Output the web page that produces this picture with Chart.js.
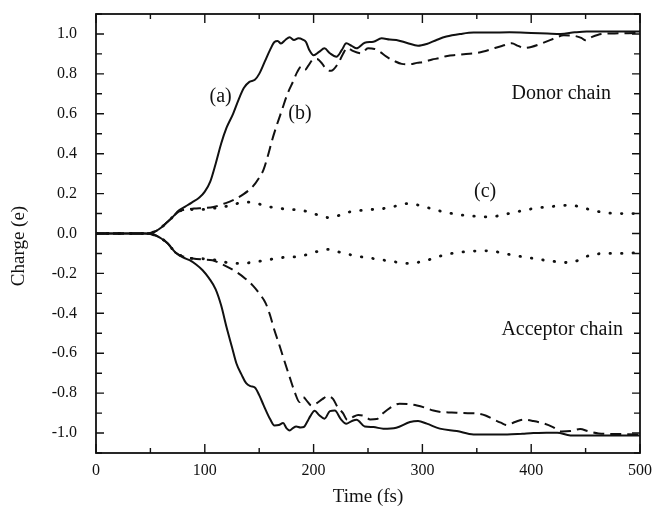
<!DOCTYPE html>
<html lang="en">
<head>
  <meta charset="UTF-8" />
  <title>Charge transfer</title>
  <script src="https://cdn.jsdelivr.net/npm/chart.js"></script>
  <style>
    html, body { margin: 0; padding: 0; background: #fff; }
    canvas { display: block; }
  </style>
</head>
<body>
  <canvas id="chart" width="654" height="511"></canvas>

  <script>
    // [time (fs), charge (e)]
    const donorA = [[0,0],[45,0],[50,0.003],[55,0.012],[60,0.03],[65,0.055],[70,0.08],[76,0.115],[82,0.135],[88,0.155],[95,0.18],[100,0.21],[105,0.26],[110,0.35],[115,0.45],[120,0.53],[126,0.6],[131,0.67],[136,0.73],[141,0.76],[146,0.77],[150,0.8],[155,0.86],[160,0.92],[164,0.96],[167,0.965],[170,0.952],[174,0.97],[178,0.983],[182,0.97],[186,0.978],[190,0.972],[193,0.96],[196,0.92],[200,0.893],[205,0.91],[210,0.928],[215,0.903],[221,0.886],[226,0.92],[230,0.953],[235,0.94],[239.5,0.928],[247,0.956],[255,0.961],[262.5,0.978],[270,0.972],[276,0.97],[286,0.955],[296,0.941],[304,0.95],[313,0.97],[322,0.987],[335,1.0],[347,1.007],[362,1.007],[380,1.008],[400,1.005],[415,1.002],[427,1.0],[440,1.008],[451,1.012],[470,1.012],[500,1.012]];
    const donorB = [[0,0],[45,0],[50,0.003],[55,0.012],[60,0.03],[65,0.055],[70,0.08],[76,0.11],[82,0.12],[90,0.125],[100,0.128],[108,0.133],[118,0.15],[126,0.167],[135,0.195],[144,0.235],[150,0.28],[154,0.32],[158,0.39],[162,0.47],[166,0.54],[171,0.62],[176,0.7],[181,0.76],[185,0.81],[188.5,0.836],[192,0.82],[195,0.84],[199,0.87],[203,0.875],[208,0.85],[212,0.82],[216,0.815],[222.6,0.853],[227,0.9],[231,0.93],[236,0.915],[244,0.903],[250,0.928],[256,0.925],[261,0.91],[267,0.886],[274,0.865],[281,0.85],[288,0.848],[295,0.855],[302,0.861],[309,0.872],[315,0.878],[323,0.89],[332,0.895],[340,0.9],[348,0.903],[356,0.912],[364,0.925],[373,0.94],[382,0.953],[388,0.94],[393,0.93],[400,0.935],[410,0.953],[420,0.975],[430,0.993],[440,0.99],[446,0.98],[450,0.968],[456,0.985],[465,1.0],[480,1.003],[500,1.005]];
    const donorC = [[0,0],[45,0],[50,0.003],[55,0.012],[60,0.03],[65,0.055],[70,0.08],[76,0.11],[85,0.12],[95,0.12],[105,0.125],[117,0.133],[128,0.148],[138,0.158],[148,0.15],[160,0.133],[175,0.122],[190,0.115],[200,0.1],[213,0.08],[223,0.09],[233,0.108],[248,0.118],[264,0.125],[276,0.138],[287,0.15],[298,0.14],[308,0.125],[319,0.109],[333,0.095],[348,0.087],[362,0.083],[375,0.095],[388,0.11],[402,0.125],[418,0.135],[436,0.142],[450,0.125],[463,0.109],[480,0.1],[500,0.1]];
    const acceptorA = [[0,0],[45,0],[50,-0.003],[55,-0.01],[60,-0.025],[66,-0.05],[73,-0.095],[80,-0.12],[86,-0.134],[92,-0.155],[98,-0.184],[104,-0.225],[110,-0.28],[115,-0.36],[120,-0.47],[125,-0.57],[129,-0.65],[134,-0.71],[138,-0.75],[142,-0.765],[146,-0.772],[150,-0.81],[154,-0.86],[160,-0.93],[164,-0.962],[168,-0.96],[172,-0.95],[175,-0.975],[178,-0.987],[181,-0.975],[184,-0.967],[188,-0.972],[191,-0.97],[194,-0.945],[197,-0.915],[201,-0.888],[205,-0.91],[210,-0.928],[215,-0.89],[219.5,-0.887],[225,-0.93],[230,-0.953],[235,-0.94],[239.5,-0.933],[247,-0.967],[255,-0.97],[264,-0.978],[276,-0.973],[288.6,-0.945],[296,-0.94],[304,-0.953],[316,-0.978],[331.6,-0.99],[347,-1.007],[362,-1.007],[378,-1.007],[392,-1.003],[402,-1.0],[414,-0.998],[424,-0.998],[436,-1.012],[460,-1.012],[500,-1.012]];
    const acceptorB = [[0,0],[45,0],[50,-0.003],[55,-0.01],[60,-0.025],[66,-0.05],[73,-0.095],[80,-0.115],[89,-0.125],[98,-0.13],[107,-0.134],[118,-0.16],[129,-0.193],[137,-0.225],[144,-0.26],[150,-0.3],[156,-0.35],[160,-0.41],[164,-0.485],[168,-0.55],[172,-0.619],[178,-0.72],[183,-0.8],[187,-0.845],[190.5,-0.82],[194,-0.84],[198,-0.862],[203,-0.85],[208,-0.83],[213,-0.815],[218,-0.83],[222,-0.87],[227,-0.9],[231,-0.935],[236,-0.92],[241,-0.91],[247,-0.915],[252,-0.932],[258,-0.93],[264,-0.9],[270,-0.875],[279,-0.853],[287,-0.855],[295,-0.862],[302,-0.872],[310,-0.887],[318,-0.895],[327,-0.897],[338,-0.9],[350,-0.902],[358,-0.912],[364,-0.928],[372,-0.948],[378,-0.96],[385,-0.945],[393,-0.933],[402,-0.94],[412,-0.953],[420,-0.97],[428,-0.992],[436,-0.99],[445,-0.98],[452,-0.99],[462,-1.002],[480,-1.005],[500,-1.007]];
    const acceptorC = [[0,0],[45,0],[50,-0.003],[55,-0.01],[60,-0.025],[66,-0.05],[73,-0.095],[80,-0.115],[89,-0.125],[100,-0.127],[110,-0.133],[120,-0.145],[129,-0.15],[138,-0.148],[147,-0.142],[160,-0.13],[172,-0.12],[187,-0.115],[200,-0.095],[213,-0.08],[228,-0.1],[244,-0.117],[258,-0.128],[272,-0.14],[287,-0.15],[300,-0.14],[310,-0.125],[319,-0.109],[333,-0.095],[348,-0.088],[362,-0.087],[375,-0.1],[388,-0.113],[402,-0.125],[418,-0.138],[436,-0.146],[445,-0.13],[454,-0.109],[470,-0.1],[485,-0.1],[500,-0.095]];

    const xTicks = [0, 100, 200, 300, 400, 500];
    const xMinor = [50, 150, 250, 350, 450];
    const yTicks = [-1.0, -0.8, -0.6, -0.4, -0.2, 0.0, 0.2, 0.4, 0.6, 0.8, 1.0];
    const yMinor = [-1.1, -0.9, -0.7, -0.5, -0.3, -0.1, 0.1, 0.3, 0.5, 0.7, 0.9, 1.1];

    // text labels inside the plot, placed in data coordinates
    const notes = [
      { text: "(a)", t: 114.5, q: 0.684 },
      { text: "(b)", t: 187.5, q: 0.6 },
      { text: "(c)", t: 357.6, q: 0.207 },
      { text: "Donor chain", t: 427.6, q: 0.70 },
      { text: "Acceptor chain", t: 428.5, q: -0.48 }
    ];

    const serif = "'Liberation Serif', 'Times New Roman', serif";
    const toXY = arr => arr.map(p => ({ x: p[0], y: p[1] }));

    function line(data, style) {
      return Object.assign({
        data: toXY(data),
        borderColor: "#111",
        borderWidth: 2,
        pointRadius: 0,
        fill: false,
        cubicInterpolationMode: "monotone"
      }, style);
    }

    const frame = {
      id: "frame",
      afterDraw(chart) {
        const { ctx, chartArea: a, scales: { x, y } } = chart;
        ctx.save();
        ctx.strokeStyle = "#111";
        ctx.lineWidth = 1.8;
        ctx.strokeRect(a.left, a.top, a.right - a.left, a.bottom - a.top);

        ctx.lineWidth = 1.4;
        ctx.beginPath();
        const xt = (vals, len) => vals.forEach(v => {
          const px = x.getPixelForValue(v);
          ctx.moveTo(px, a.bottom); ctx.lineTo(px, a.bottom - len);
          ctx.moveTo(px, a.top); ctx.lineTo(px, a.top + len);
        });
        const yt = (vals, len) => vals.forEach(v => {
          const py = y.getPixelForValue(v);
          ctx.moveTo(a.left, py); ctx.lineTo(a.left + len, py);
          ctx.moveTo(a.right, py); ctx.lineTo(a.right - len, py);
        });
        xt(xTicks, 9); xt(xMinor, 5);
        yt(yTicks, 8); yt(yMinor, 6);
        ctx.stroke();

        ctx.fillStyle = "#111";
        ctx.textAlign = "center";
        ctx.textBaseline = "middle";
        ctx.font = "20px " + serif;
        notes.forEach(n => ctx.fillText(n.text, x.getPixelForValue(n.t), y.getPixelForValue(n.q)));

        ctx.font = "19px " + serif;
        ctx.fillText("Time (fs)", (a.left + a.right) / 2, 497);
        ctx.translate(19, 246);
        ctx.rotate(-Math.PI / 2);
        ctx.fillText("Charge (e)", 0, 0);
        ctx.restore();
      }
    };

    new Chart(document.getElementById("chart"), {
      type: "line",
      data: {
        datasets: [
          line(donorA),
          line(acceptorA),
          line(donorB, { borderDash: [11, 6] }),
          line(acceptorB, { borderDash: [11, 6] }),
          line(donorC, { borderDash: [0.5, 11], borderWidth: 2.8, borderCapStyle: "round" }),
          line(acceptorC, { borderDash: [0.5, 11], borderWidth: 2.8, borderCapStyle: "round" })
        ]
      },
      options: {
        responsive: false,
        animation: false,
        layout: { padding: { top: 14, right: 14, left: 0, bottom: 0 } },
        plugins: { legend: { display: false }, tooltip: { enabled: false } },
        scales: {
          x: {
            type: "linear",
            min: 0,
            max: 500,
            afterBuildTicks: s => { s.ticks = xTicks.map(v => ({ value: v })); },
            afterFit: s => { s.height = 58; s.paddingLeft = 0; s.paddingRight = 0; },
            grid: { display: false, drawTicks: false },
            border: { display: false },
            ticks: { padding: 8, color: "#111", maxRotation: 0, font: { family: serif, size: 16 } }
          },
          y: {
            min: -1.1,
            max: 1.1,
            afterBuildTicks: s => { s.ticks = yTicks.map(v => ({ value: v })); },
            afterFit: s => { s.width = 96; s.paddingTop = 0; s.paddingBottom = 0; },
            grid: { display: false, drawTicks: false },
            border: { display: false },
            ticks: {
              padding: 19,
              color: "#111",
              font: { family: serif, size: 16 },
              callback: v => Number(v).toFixed(1)
            }
          }
        }
      },
      plugins: [frame]
    });
  </script>
</body>
</html>
